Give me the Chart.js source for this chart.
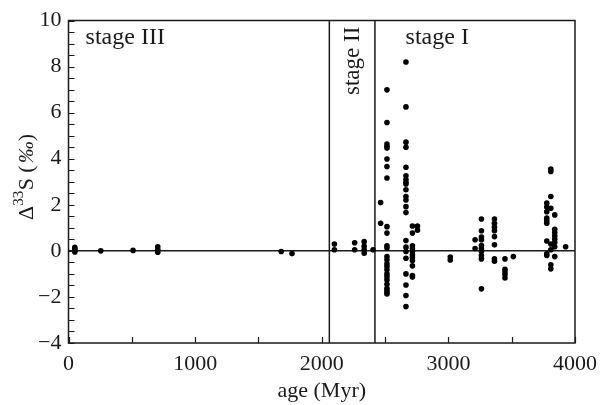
<!DOCTYPE html>
<html>
<head>
<meta charset="utf-8">
<script src="https://cdn.jsdelivr.net/npm/chart.js@4.4.1/dist/chart.umd.min.js"></script>
<style>
  html, body { margin: 0; padding: 0; background: #fff; }
  canvas { display: block; }
</style>
</head>
<body>
<canvas id="chart" width="605" height="405"></canvas>
<script>
// --- data: one age per sample column, values of Δ33S (‰) ---
const columnAges = [50, 255, 510, 705, 1680, 1765, 2100, 2260, 2335, 2405, 2465, 2515,
  2665, 2716, 2756, 3015, 3211, 3261, 3364, 3447, 3513, 3777, 3809, 3840, 3926];
const columnValues = [
  [0.15, 0.08, 0.02, -0.05],
  [0.0],
  [0.02],
  [0.18, 0.06, -0.06],
  [-0.03],
  [-0.12],
  [0.3, 0.05],
  [0.35, 0.05],
  [0.4, 0.2, 0.05, -0.1],
  [0.05],
  [2.1, 1.2],
  [6.99, 5.57, 4.64, 4.53, 4.46, 3.99, 3.66, 3.16, 1.05, 0.77, 0.22, 0.12, -0.25, -0.39,
   -0.56, -0.68, -0.82, -1.0, -1.12, -1.26, -1.45, -1.62, -1.72, -1.81, -1.87],
  [8.2, 6.25, 4.72, 4.5, 3.63, 3.26, 3.1, 2.98, 2.9, 2.65, 2.36, 2.21, 1.92, 1.66,
   0.45, 0.16, -0.03, -0.32, -1.0, -1.48, -1.94, -2.42],
  [1.08, 0.77, 0.22, 0.09, -0.03, -0.17, -0.29, -0.42, -0.65, -1.07, -1.14],
  [1.08, 0.9],
  [-0.27, -0.4],
  [0.48, 0.1],
  [1.38, 0.87, 0.6, 0.48, 0.23, 0.1, -0.03, -0.2, -0.35, -1.65],
  [1.38, 1.2, 1.03, 0.87, 0.62, 0.26, -0.35, -0.45],
  [-0.35, -0.8, -0.92, -1.04, -1.18],
  [-0.25],
  [2.07, 1.9, 1.7, 1.42, 1.3, 1.2, 0.43, -0.13, -0.2],
  [3.55, 3.45, 2.36, 1.85, 0.3, 0.05, -0.6, -0.78],
  [1.56, 0.94, 0.8, 0.65, 0.5, 0.36, 0.18, -0.25],
  [0.18]
];

// stage boundaries (Myr) and labels
const stageBounds = [2060, 2420];
const stageLabels = ['stage III', 'stage II', 'stage I'];
const stageLabelAt = [[135, 9.0], [2268, 8.25], [2662, 9.0]]; // age, value

const xTicks = [0, 1000, 2000, 3000, 4000];
const yTicks = [-4, -2, 0, 2, 4, 6, 8, 10];

const points = [];
columnAges.forEach((age, i) => {
  columnValues[i].forEach(v => points.push({ x: age, y: v }));
});

const FONT = "'Liberation Serif', 'DejaVu Serif', serif";
const INK = '#1a1a1a';

// extra drawing: frame, inward ticks, reference lines, labels, y title
const decorations = {
  id: 'decorations',
  beforeDatasetsDraw(chart) {
    const { ctx, chartArea: a, scales: { x, y } } = chart;
    ctx.save();
    ctx.strokeStyle = INK;
    ctx.lineWidth = 1.5;
    // zero line
    const y0 = y.getPixelForValue(0);
    ctx.beginPath();
    ctx.moveTo(a.left, y0); ctx.lineTo(a.right, y0);
    // stage boundaries
    stageBounds.forEach(b => {
      const px = x.getPixelForValue(b);
      ctx.moveTo(px, a.top); ctx.lineTo(px, a.bottom);
    });
    ctx.stroke();
    ctx.restore();
  },
  afterDraw(chart) {
    const { ctx, chartArea: a, scales: { x, y } } = chart;
    ctx.save();
    ctx.strokeStyle = INK;
    ctx.lineWidth = 1.5;
    ctx.strokeRect(a.left, a.top, a.right - a.left, a.bottom - a.top);

    // inward ticks
    ctx.lineWidth = 1.2;
    ctx.beginPath();
    for (let v = 0; v <= 4000; v += 500) {
      const px = Math.round(x.getPixelForValue(v)) + 0.5;
      ctx.moveTo(px, a.bottom); ctx.lineTo(px, a.bottom - 6);
    }
    for (let v = -4; v <= 10; v += 0.5) {
      const py = Math.round(y.getPixelForValue(v)) + 0.5;
      ctx.moveTo(a.left, py); ctx.lineTo(a.left + 6, py);
    }
    ctx.stroke();

    // stage labels
    ctx.fillStyle = INK;
    ctx.font = '24px ' + FONT;
    ctx.textBaseline = 'alphabetic';
    ctx.textAlign = 'left';
    ctx.fillText(stageLabels[0], x.getPixelForValue(stageLabelAt[0][0]), y.getPixelForValue(stageLabelAt[0][1]));
    ctx.fillText(stageLabels[2], x.getPixelForValue(stageLabelAt[2][0]), y.getPixelForValue(stageLabelAt[2][1]));
    ctx.save();
    ctx.font = '23px ' + FONT;
    ctx.translate(x.getPixelForValue(stageLabelAt[1][0]) + 3, y.getPixelForValue(stageLabelAt[1][1]));
    ctx.rotate(-Math.PI / 2);
    ctx.textAlign = 'center';
    ctx.fillText(stageLabels[1], 0, 0);
    ctx.restore();

    // y axis title: Δ^33 S (‰)
    const parts = [
      { t: '\u0394', f: '22px ' + FONT, dy: 0, gap: 0 },
      { t: '33', f: '15px ' + FONT, dy: -10, gap: 0.5 },
      { t: 'S', f: '22px ' + FONT, dy: 0, gap: 0 },
      { t: ' (', f: '22px ' + FONT, dy: 0, gap: 2 },
      { t: '\u2030', f: 'italic 22px ' + FONT, dy: 0, gap: 0 },
      { t: ')', f: '22px ' + FONT, dy: 0, gap: 0 }
    ];
    let w = 0;
    parts.forEach(p => { ctx.font = p.f; p.w = ctx.measureText(p.t).width + p.gap; w += p.w; });
    ctx.save();
    ctx.translate(33, 177);
    ctx.rotate(-Math.PI / 2);
    ctx.textAlign = 'left';
    let cx = -w / 2;
    parts.forEach(p => {
      ctx.font = p.f;
      ctx.fillText(p.t, cx, p.dy);
      cx += p.w;
    });
    ctx.restore();
    ctx.restore();
  }
};

new Chart(document.getElementById('chart'), {
  type: 'scatter',
  data: {
    datasets: [{
      data: points,
      backgroundColor: '#000',
      borderWidth: 0,
      pointRadius: 2.8
    }]
  },
  options: {
    responsive: false,
    animation: false,
    devicePixelRatio: 1,
    layout: { padding: { top: 20.5, right: 27, left: 0, bottom: 0 } },
    plugins: { legend: { display: false }, tooltip: { enabled: false } },
    scales: {
      x: {
        type: 'linear', min: 0, max: 4000,
        afterBuildTicks: s => { s.ticks = xTicks.map(v => ({ value: v })); },
        grid: { display: false, drawTicks: false },
        border: { display: false },
        ticks: { font: { family: FONT, size: 22 }, color: INK, padding: 8, maxRotation: 0, callback: v => String(v) },
        title: { display: true, text: 'age (Myr)', font: { family: FONT, size: 22 }, color: INK, padding: { top: 0, bottom: 1 } },
        afterFit: s => { s.height = 62; }
      },
      y: {
        type: 'linear', min: -4, max: 10,
        afterBuildTicks: s => { s.ticks = yTicks.map(v => ({ value: v })); },
        grid: { display: false, drawTicks: false },
        border: { display: false },
        ticks: {
          font: { family: FONT, size: 22 }, color: INK, padding: 7,
          callback: v => String(v).replace('-', '\u2212')
        },
        afterFit: s => { s.width = 68.5; }
      }
    }
  },
  plugins: [decorations]
});
</script>
</body>
</html>
